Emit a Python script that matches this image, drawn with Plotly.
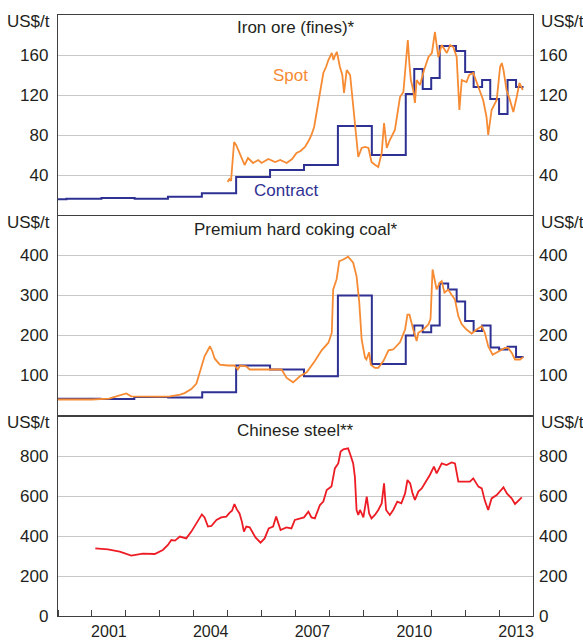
import plotly.graph_objects as go

# ---------------- data (decimal years) ----------------
iron_contract_t = [2000.0, 2000.25, 2001.28, 2002.26, 2003.24, 2004.24, 2005.25, 2006.25, 2007.25,
                   2008.25, 2009.25, 2010.25, 2010.5, 2010.75, 2011.0, 2011.25, 2011.73, 2012.0,
                   2012.25, 2012.5, 2012.74, 2013.0, 2013.25, 2013.5, 2013.72]
iron_contract_v = [15.7, 16.3, 17, 16.3, 18.3, 21.7, 38, 45, 50,
                   89, 60, 121, 146, 126, 137, 169, 164, 143,
                   128, 135, 116, 101, 135, 128, 128]

iron_spot_t = [2005.0, 2005.05, 2005.1, 2005.19, 2005.25, 2005.35, 2005.5, 2005.6, 2005.75, 2005.9,
               2006.0, 2006.2, 2006.4, 2006.55, 2006.74, 2006.9, 2007.03, 2007.15, 2007.28, 2007.4,
               2007.47, 2007.55, 2007.62, 2007.72, 2007.82, 2007.9, 2007.97, 2008.07, 2008.12, 2008.17,
               2008.22, 2008.31, 2008.38, 2008.43, 2008.51, 2008.61, 2008.7, 2008.8, 2008.85, 2008.95,
               2009.05, 2009.15, 2009.24, 2009.35, 2009.44, 2009.54, 2009.61, 2009.69, 2009.78, 2009.93,
               2010.0, 2010.08, 2010.18, 2010.25, 2010.31, 2010.36, 2010.4, 2010.47, 2010.52, 2010.57,
               2010.67, 2010.79, 2010.92, 2011.02, 2011.11, 2011.16, 2011.21, 2011.31, 2011.46, 2011.56,
               2011.65, 2011.75, 2011.83, 2011.9, 2012.04, 2012.12, 2012.24, 2012.39, 2012.53, 2012.63,
               2012.68, 2012.78, 2012.93, 2013.03, 2013.08, 2013.13, 2013.22, 2013.32, 2013.42, 2013.52,
               2013.6, 2013.7]
iron_spot_v = [33, 36, 34, 73, 70, 62, 50, 57, 52, 55,
               52, 56, 53, 55, 52, 56, 62, 64, 68, 75,
               80, 88, 102, 122, 142, 148, 155, 162, 155, 160,
               163, 148, 140, 122, 145, 140, 108, 75, 58, 67,
               68, 67, 53, 50, 48, 62, 92, 67, 75, 85,
               100, 118, 123, 152, 175, 150, 135, 125, 112, 135,
               130, 145, 158, 162, 183, 170, 158, 170, 162, 170,
               168, 158, 105, 135, 133, 140, 142, 128, 115, 98,
               80, 105, 115, 148, 152, 145, 125, 115, 103, 118,
               132, 125]

coal_contract_t = [2000.0, 2001.25, 2002.25, 2003.25, 2004.25, 2005.25, 2006.25, 2007.25, 2008.25,
                   2009.25, 2010.25, 2010.5, 2010.75, 2011.0, 2011.25, 2011.5, 2011.75, 2012.0,
                   2012.25, 2012.5, 2012.75, 2013.0, 2013.25, 2013.5, 2013.72]
coal_contract_v = [42, 41, 46, 45, 58, 125, 115, 98, 300,
                   129, 200, 225, 208, 225, 330, 315, 285, 236,
                   211, 225, 170, 165, 172, 146, 146]

coal_spot_t = [2000.0, 2000.5, 2001.0, 2001.5, 2001.77, 2002.01, 2002.16, 2002.6, 2003.0, 2003.3,
               2003.6, 2003.73, 2003.93, 2004.08, 2004.17, 2004.32, 2004.48, 2004.55, 2004.62, 2004.77,
               2005.0, 2005.2, 2005.3, 2005.37, 2005.55, 2005.65, 2006.0, 2006.59, 2006.74, 2006.93,
               2007.13, 2007.33, 2007.57, 2007.77, 2007.97, 2008.07, 2008.11, 2008.21, 2008.29, 2008.41,
               2008.55, 2008.7, 2008.8, 2008.88, 2008.95, 2009.05, 2009.09, 2009.17, 2009.22, 2009.34,
               2009.44, 2009.59, 2009.74, 2009.88, 2010.08, 2010.23, 2010.3, 2010.36, 2010.47, 2010.57,
               2010.62, 2010.77, 2010.92, 2010.98, 2011.04, 2011.1, 2011.16, 2011.25, 2011.31, 2011.39,
               2011.5, 2011.6, 2011.7, 2011.8, 2011.9, 2012.04, 2012.19, 2012.34, 2012.49, 2012.58,
               2012.68, 2012.81, 2012.98, 2013.17, 2013.27, 2013.37, 2013.47, 2013.62, 2013.71]
coal_spot_v = [40, 40, 40, 42, 48, 55, 48, 47, 47, 48,
               52, 56, 66, 80, 107, 148, 173, 160, 142, 127,
               125, 125, 115, 125, 123, 115, 115, 115, 94, 83,
               98, 108, 136, 163, 182, 207, 315, 340, 386, 390,
               397, 382, 348, 282, 190, 144, 140, 158, 127, 119,
               119, 136, 163, 165, 183, 215, 252, 252, 215, 186,
               207, 215, 228, 242, 365, 340, 315, 332, 336, 307,
               315, 302, 290, 248, 228, 215, 205, 215, 223, 207,
               173, 152, 161, 169, 169, 157, 140, 140, 146]

steel_t = [2001.1, 2001.47, 2001.82, 2002.16, 2002.5, 2002.85, 2003.09, 2003.24, 2003.34, 2003.45,
           2003.59, 2003.78, 2003.93, 2004.08, 2004.24, 2004.32, 2004.42, 2004.52, 2004.67, 2004.81,
           2004.96, 2005.06, 2005.13, 2005.2, 2005.27, 2005.35, 2005.42, 2005.48, 2005.55, 2005.65,
           2005.75, 2005.82, 2005.97, 2006.09, 2006.21, 2006.34, 2006.43, 2006.48, 2006.56, 2006.73,
           2006.88, 2006.98, 2007.13, 2007.25, 2007.38, 2007.47, 2007.57, 2007.72, 2007.82, 2007.92,
           2008.06, 2008.16, 2008.26, 2008.33, 2008.41, 2008.55, 2008.62, 2008.7, 2008.75, 2008.8,
           2008.85, 2008.9, 2008.95, 2009.0, 2009.1, 2009.17, 2009.24, 2009.34, 2009.44, 2009.54,
           2009.61, 2009.67, 2009.78, 2009.88, 2010.0, 2010.12, 2010.23, 2010.3, 2010.38, 2010.45,
           2010.52, 2010.62, 2010.72, 2010.81, 2010.96, 2011.08, 2011.16, 2011.31, 2011.45, 2011.6,
           2011.7, 2011.8, 2011.95, 2012.14, 2012.24, 2012.39, 2012.49, 2012.58, 2012.68, 2012.78,
           2012.93, 2013.03, 2013.13, 2013.23, 2013.37, 2013.47, 2013.57, 2013.67]
steel_v = [338, 333, 322, 302, 312, 310, 330, 355, 380, 377,
           397, 388, 422, 463, 508, 493, 447, 450, 480, 493,
           497, 517, 527, 560, 533, 513, 472, 422, 447, 443,
           413, 393, 367, 388, 438, 447, 497, 472, 430, 443,
           438, 480, 488, 493, 522, 493, 488, 555, 572, 630,
           647, 738, 763, 822, 833, 838, 805, 763, 697, 530,
           505, 530, 513, 493, 597, 513, 488, 505, 530, 563,
           663, 530, 505, 530, 572, 563, 613, 680, 663, 613,
           580, 622, 638, 663, 705, 747, 713, 763, 755, 768,
           763, 672, 672, 672, 688, 647, 638, 577, 530, 588,
           605, 622, 643, 613, 588, 560, 577, 593]

year_tick_labels = ["2001", "2004", "2007", "2010", "2013"]
year_label_pos = [2001.5, 2004.5, 2007.5, 2010.5, 2013.5]

iron_ticks = [40, 80, 120, 160]
coal_ticks = [100, 200, 300, 400]
steel_ticks = [0, 200, 400, 600, 800]

# ---------------- styling ----------------
ORANGE = "#F68B33"
NAVY = "#2E3192"
RED = "#ED1C24"
GRID = "#C8C8C8"
AXIS = "#3F3F3F"
TXT = "#231F20"
FONT = "Liberation Sans, Arial, sans-serif"

fig = go.Figure()
fig.add_trace(go.Scatter(x=iron_contract_t, y=iron_contract_v, mode="lines", line_shape="hv",
                         line=dict(color=NAVY, width=2), xaxis="x", yaxis="y", hoverinfo="skip"))
fig.add_trace(go.Scatter(x=iron_spot_t, y=iron_spot_v, mode="lines",
                         line=dict(color=ORANGE, width=1.8), xaxis="x", yaxis="y", hoverinfo="skip"))
fig.add_trace(go.Scatter(x=coal_contract_t, y=coal_contract_v, mode="lines", line_shape="hv",
                         line=dict(color=NAVY, width=2), xaxis="x2", yaxis="y2", hoverinfo="skip"))
fig.add_trace(go.Scatter(x=coal_spot_t, y=coal_spot_v, mode="lines",
                         line=dict(color=ORANGE, width=1.8), xaxis="x2", yaxis="y2", hoverinfo="skip"))
fig.add_trace(go.Scatter(x=steel_t, y=steel_v, mode="lines",
                         line=dict(color=RED, width=1.8), xaxis="x3", yaxis="y3", hoverinfo="skip"))

H = 601.0
d1 = [401.0 / H, 1.0]
d2 = [200.5 / H, 400.5 / H]
d3 = [0.0, 200.0 / H]

def xax(anchor, labels=False):
    a = dict(range=[2000, 2014], anchor=anchor, showline=True, mirror=True, linecolor=AXIS,
             linewidth=1.3, showgrid=False, zeroline=False, fixedrange=True, automargin=False)
    if labels:
        a.update(tickmode="array", tickvals=year_label_pos, ticktext=year_tick_labels, ticks="",
                 tickfont=dict(size=16, color=TXT, family=FONT), ticklabelstandoff=1,
                 minor=dict(tick0=2000, dtick=1, ticks="inside", ticklen=6, tickcolor=AXIS, tickwidth=1))
    else:
        a.update(showticklabels=False, ticks="")
    return a

def yax(domain, rng, ticks, anchor):
    return dict(domain=domain, range=rng, anchor=anchor, tickmode="array", tickvals=ticks,
                showgrid=True, gridcolor=GRID, gridwidth=1, zeroline=False, showline=True,
                mirror=True, linecolor=AXIS, linewidth=1.3, ticks="", ticklabelstandoff=5,
                tickfont=dict(size=17, color=TXT, family=FONT), fixedrange=True, automargin=False)

def yright(over, rng, ticks, anchor):
    return dict(overlaying=over, side="right", range=rng, anchor=anchor, tickmode="array",
                tickvals=ticks, showgrid=False, zeroline=False, showline=False, ticks="",
                ticklabelstandoff=5, tickfont=dict(size=17, color=TXT, family=FONT),
                fixedrange=True, automargin=False)

# invisible copies so right-hand axes are drawn
fig.add_trace(go.Scatter(x=iron_spot_t, y=iron_spot_v, mode="lines", line=dict(width=0),
                         opacity=0, xaxis="x", yaxis="y4", hoverinfo="skip"))
fig.add_trace(go.Scatter(x=coal_spot_t, y=coal_spot_v, mode="lines", line=dict(width=0),
                         opacity=0, xaxis="x2", yaxis="y5", hoverinfo="skip"))
fig.add_trace(go.Scatter(x=steel_t, y=steel_v, mode="lines", line=dict(width=0),
                         opacity=0, xaxis="x3", yaxis="y6", hoverinfo="skip"))

def py(ypx):
    return (616.0 - ypx) / H

annots = []
for title, ypx in [("Iron ore (fines)*", 28), ("Premium hard coking coal*", 229), ("Chinese steel**", 430)]:
    annots.append(dict(text=title, x=0.5, y=py(ypx), xref="paper", yref="paper", showarrow=False,
                       xanchor="center", yanchor="middle", font=dict(size=17, color=TXT, family=FONT)))
for ypx in [22, 222, 422]:
    annots.append(dict(text="US$/t", x=-6 / 475.0, y=py(ypx), xref="paper", yref="paper",
                       showarrow=False, xanchor="right", yanchor="middle",
                       font=dict(size=17, color=TXT, family=FONT)))
    annots.append(dict(text="US$/t", x=1 + 6 / 475.0, y=py(ypx), xref="paper", yref="paper",
                       showarrow=False, xanchor="left", yanchor="middle",
                       font=dict(size=17, color=TXT, family=FONT)))
annots.append(dict(text="Spot", x=2006.85, y=140, xref="x", yref="y", showarrow=False,
                   xanchor="center", yanchor="middle", font=dict(size=17, color=ORANGE, family=FONT)))
annots.append(dict(text="Contract", x=2006.72, y=25, xref="x", yref="y", showarrow=False,
                   xanchor="center", yanchor="middle", font=dict(size=17, color=NAVY, family=FONT)))

fig.update_layout(
    width=583, height=640,
    margin=dict(l=58, r=50, t=15, b=24, pad=0),
    paper_bgcolor="white", plot_bgcolor="white",
    showlegend=False,
    font=dict(family=FONT, color=TXT),
    xaxis=xax("y"), xaxis2=xax("y2"), xaxis3=xax("y3", labels=True),
    yaxis=yax(d1, [0, 200], iron_ticks, "x"),
    yaxis2=yax(d2, [0, 500], coal_ticks, "x2"),
    yaxis3=yax(d3, [0, 1000], steel_ticks, "x3"),
    yaxis4=yright("y", [0, 200], iron_ticks, "x"),
    yaxis5=yright("y2", [0, 500], coal_ticks, "x2"),
    yaxis6=yright("y3", [0, 1000], steel_ticks, "x3"),
    annotations=annots,
)

# remove the browser's default page margin so the 583x640 figure fills the window exactly
fig.write_html("out.html", config={"displayModeBar": False},
               post_script="document.body.style.margin='0';document.body.style.overflow='hidden';")
